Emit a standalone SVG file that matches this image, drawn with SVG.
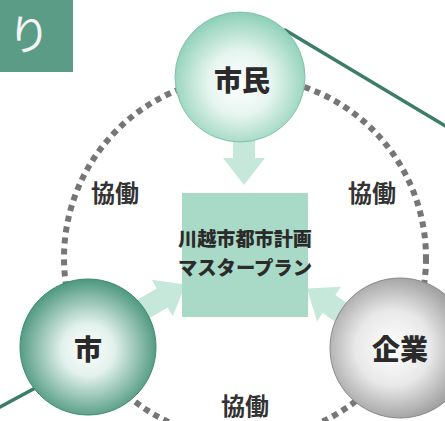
<svg xmlns="http://www.w3.org/2000/svg" width="445" height="421" viewBox="0 0 445 421">
<defs>
<radialGradient id="gMint" cx="0.5" cy="0.55" r="0.55">
<stop offset="0" stop-color="#ffffff"/>
<stop offset="0.45" stop-color="#e6f5ef"/>
<stop offset="1" stop-color="#8ccfb6"/>
</radialGradient>
<radialGradient id="gTeal" cx="0.5" cy="0.52" r="0.55">
<stop offset="0" stop-color="#ffffff"/>
<stop offset="0.35" stop-color="#e2f1ec"/>
<stop offset="1" stop-color="#3f8f75"/>
</radialGradient>
<radialGradient id="gGray" cx="0.45" cy="0.5" r="0.6">
<stop offset="0" stop-color="#ffffff"/>
<stop offset="0.45" stop-color="#e8e8e8"/>
<stop offset="1" stop-color="#8a8a8a"/>
</radialGradient>
<polygon id="arrow" points="0,-11 28,-11 28,-21 55,0 28,21 28,11 0,11"/>
<style>
.ring{fill:none;stroke:#767676;stroke-width:6;stroke-dasharray:6 5}
.ln{stroke:#3b7d68;stroke-width:3.5;stroke-linecap:round}
.arr{fill:#bfe5d7;opacity:0.9}
.lbl{font-family:"Noto Sans CJK JP","Noto Sans",sans-serif;font-weight:900;fill:#2b2b2b;text-anchor:middle}
.tag{font-family:"Noto Sans CJK JP","Noto Sans",sans-serif;font-weight:700;fill:#333;font-size:24px;text-anchor:middle}
</style>
</defs>
<rect width="445" height="421" fill="#ffffff"/>

<g id="connectors">
<circle class="ring" cx="245" cy="258" r="181"/>
<line class="ln" x1="285" y1="30" x2="447" y2="127"/>
<line class="ln" x1="52" y1="379" x2="-2" y2="408"/>
<line class="ln" x1="430" y1="400" x2="447" y2="391"/>
<use href="#arrow" class="arr" transform="translate(244,130) rotate(90)"/>
<use href="#arrow" class="arr" transform="translate(138,312) rotate(-30)"/>
<use href="#arrow" class="arr" transform="translate(352,320) rotate(215)"/>
</g>

<g id="tab">
<rect x="0" y="0" width="73" height="72" fill="#5b9c87"/>
<text x="29" y="50" font-family="'Noto Sans CJK JP','Noto Sans',sans-serif" font-size="42" fill="#f4f4f4" text-anchor="middle">り</text>
</g>

<g id="node-shimin">
<circle cx="240" cy="77" r="65" fill="url(#gMint)" stroke="#7fc2aa" stroke-width="1"/>
<text class="lbl" x="242" y="91" font-size="28">市民</text>
</g>

<g id="node-shi">
<circle cx="88" cy="347" r="68" fill="url(#gTeal)" stroke="#3f8a72" stroke-width="1"/>
<text class="lbl" x="88" y="360" font-size="28">市</text>
</g>

<g id="node-kigyo">
<circle cx="400" cy="348" r="70" fill="url(#gGray)" stroke="#8a8a8a" stroke-width="1"/>
<text class="lbl" x="400" y="360" font-size="28">企業</text>
</g>

<g id="node-plan">
<rect x="182" y="193" width="126" height="124" fill="#a9d9c7"/>
<text class="lbl" x="245" y="246" font-size="19" textLength="134" lengthAdjust="spacingAndGlyphs">川越市都市計画</text>
<text class="lbl" x="245" y="275" font-size="19" textLength="134" lengthAdjust="spacingAndGlyphs">マスタープラン</text>
</g>

<g id="labels">
<text class="tag" x="115" y="202">協働</text>
<text class="tag" x="372" y="202">協働</text>
<text class="tag" x="245" y="415">協働</text>
</g>
</svg>
